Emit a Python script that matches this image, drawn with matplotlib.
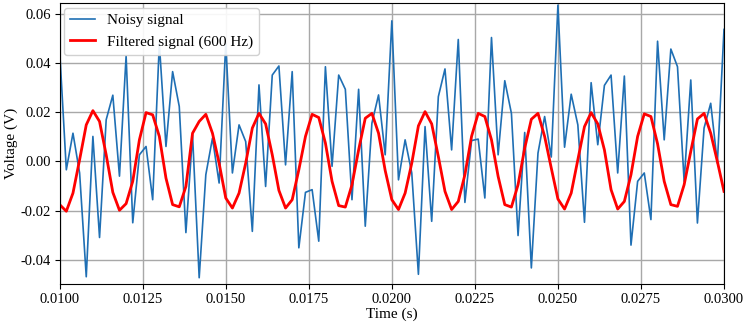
import matplotlib
matplotlib.use('Agg')
import matplotlib.pyplot as plt
import numpy as np

plt.rcParams['font.family'] = ['Liberation Serif', 'DejaVu Serif']
plt.rcParams['axes.unicode_minus'] = False

# samples, 5 kHz sampling from 0.0100 s to 0.0300 s
t_start = 0.01
t_step = 0.0002
noisy = [0.045, -0.0034, 0.0115, -0.0047, -0.047, 0.0102, -0.031, 0.017, 0.027, -0.006,
         0.043, -0.025, 0.0027, 0.0061, -0.0156, 0.048, 0.0061, 0.0366, 0.0224, -0.029,
         0.0108, -0.0474, -0.0054, 0.0095, -0.0088, 0.048, -0.0047, 0.0149, 0.0081, -0.0285,
         0.0312, -0.0102, 0.0352, 0.0389, -0.0014, 0.0366, -0.0352, -0.0126, -0.0115, -0.0325,
         0.0386, -0.002, 0.0352, 0.0294, -0.0156, 0.0294, -0.0264, 0.0156, 0.0271, 0.0027,
         0.0573, -0.0075, 0.0088, -0.0047, -0.046, 0.0142, -0.0244, 0.0264, 0.0377, 0.0047,
         0.0497, -0.0167, 0.0085, 0.0091, -0.0149, 0.0505, 0.0027, 0.0329, 0.0196, -0.0302,
         0.0118, -0.0434, 0.0034, 0.0183, 0.0018, 0.0637, 0.0058, 0.0274, 0.0149, -0.0248,
         0.0321, 0.0068, 0.031, 0.0352, -0.0047, 0.0348, -0.0341, -0.0081, -0.0047, -0.0237,
         0.049, 0.0088, 0.0458, 0.0386, -0.0081, 0.0332, -0.0251, 0.0136, 0.0237, -0.0007,
         0.0538]
filtered = [-0.0176, -0.0203, -0.0129, 0.0007, 0.0149, 0.0207, 0.0163, 0.0027, -0.0126, -0.0199,
            -0.0172, -0.0081, 0.0088, 0.0199, 0.019, 0.0102, -0.0068, -0.0176, -0.0185, -0.0102,
            0.0115, 0.0163, 0.0192, 0.0115, -0.0007, -0.0149, -0.019, -0.0129, -0.0007, 0.0136,
            0.0196, 0.0153, 0.0027, -0.0118, -0.019, -0.0156, -0.0034, 0.0102, 0.0192, 0.0179,
            0.0075, -0.0081, -0.018, -0.0186, -0.0095, 0.0047, 0.0176, 0.0196, 0.0115, -0.0037,
            -0.0156, -0.0196, -0.0129, -0.0007, 0.0145, 0.0203, 0.0153, 0.002, -0.0122, -0.0196,
            -0.0163, -0.0054, 0.0102, 0.0196, 0.0183, 0.0088, -0.0061, -0.0176, -0.0186, -0.0095,
            0.0054, 0.0172, 0.0196, 0.0102, -0.0027, -0.0153, -0.0194, -0.0129, 0.0007, 0.0142,
            0.0199, 0.0153, 0.0047, -0.0115, -0.0194, -0.0163, -0.0054, 0.0102, 0.0194, 0.0183,
            0.0072, -0.0081, -0.0176, -0.0183, -0.0095, 0.0041, 0.0173, 0.0196, 0.0115, 0.0,
            -0.0122]

t = t_start + t_step * np.arange(len(noisy))

fig = plt.figure(figsize=(7.46, 3.25), dpi=100)
ax = fig.add_axes([0.080, 0.125, 0.8905, 0.866])
ax.plot(t, noisy, color='#1f6fb4', lw=1.2, label='Noisy signal')
ax.plot(t, filtered, color='red', lw=2.0, label='Filtered signal (600 Hz)')
ax.set_xlim(0.01, 0.03)
ax.set_ylim(-0.0501, 0.0646)
ax.set_xticks(np.arange(0.01, 0.03001, 0.0025))
ax.set_yticks(np.arange(-0.04, 0.0601, 0.02))
ax.xaxis.set_major_formatter(plt.FormatStrFormatter('%.4f'))
ax.yaxis.set_major_formatter(plt.FormatStrFormatter('%.2f'))
ax.tick_params(labelsize=10.5, pad=3)
ax.grid(True, color='#a8a8a8', lw=1.0)
ax.set_xlabel('Time (s)', fontsize=11, labelpad=1)
ax.set_ylabel('Voltage (V)', fontsize=11, labelpad=2)
ax.legend(loc='upper left', fontsize=11, framealpha=0.9, borderaxespad=0.3,
          handlelength=1.6)
fig.savefig('out.png', dpi=100)
